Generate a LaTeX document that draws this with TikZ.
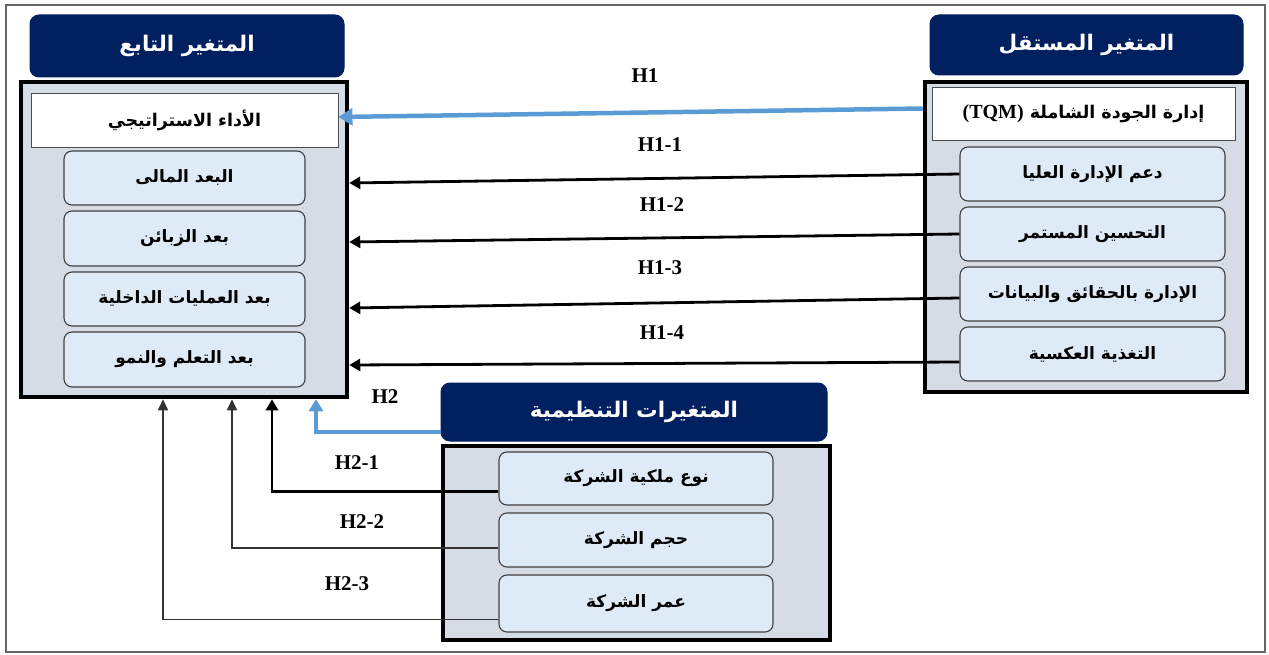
\documentclass[tikz,border=0pt]{standalone}
\usepackage{fontspec}
\setmainfont{Liberation Serif}
\newfontfamily\arabicfont[Script=Arabic]{DejaVu Sans}
\TeXXeTstate=1
\usetikzlibrary{arrows.meta,calc}
\definecolor{navy}{HTML}{002060}
\definecolor{contfill}{HTML}{D6DCE5}
\definecolor{boxfill}{HTML}{DEEBF7}
\definecolor{lineblue}{HTML}{5B9BD5}
\newcommand\pbox[7]{\node[#2, minimum width={#5-#3}, minimum height={#6-#4}] (#1) at ({(#3+#5)/2},{(#4+#6)/2}) {#7};}
\newcommand\ar[1]{\beginR #1\endR}
\begin{document}
\begin{tikzpicture}[x=1pt,y=-1pt,
  header/.style={draw=navy, fill=navy, rounded corners=9pt, line width=1pt, text=white, inner sep=0pt,
    font=\arabicfont\bfseries\fontsize{21.5}{25}\selectfont},
  container/.style={draw=black, fill=contfill, line width=4.5pt, inner sep=0pt},
  titlebox/.style={draw=black!70, fill=white, line width=0.9pt, inner sep=0pt,
    font=\arabicfont\bfseries\fontsize{17.5}{20}\selectfont},
  dimbox/.style={draw=black!75, fill=boxfill, rounded corners=8pt, line width=1.1pt, inner sep=0pt,
    font=\arabicfont\bfseries\fontsize{17}{20}\selectfont},
  hlabel/.style={font=\bfseries\fontsize{21}{24}\selectfont, inner sep=0pt},
  conn/.style={line width=2.8pt, draw=black, -{Triangle[length=11pt,width=12pt]}},
  thinconn/.style={line width=1.6pt, draw=black!80, -{Triangle[length=11pt,width=10pt]}},
  blueconn/.style={line width=4.5pt, draw=lineblue, -{Triangle[length=14pt,width=17pt]}},
]
\useasboundingbox (0,0) rectangle (1269,655);
\draw[black!60, line width=1.2pt] (6,5) rectangle (1265,652);

% left (dependent variable)
\pbox{lh}{header}{30}{15}{344}{77}{\ar{المتغير التابع}}
\pbox{L}{container}{21}{82}{347}{397}{}
\pbox{perf}{titlebox}{31}{93}{338}{147}{\ar{الأداء الاستراتيجي}}
\pbox{l1}{dimbox}{64}{151}{305}{205}{\ar{البعد المالى}}
\pbox{l2}{dimbox}{64}{211}{305}{266}{\ar{بعد الزبائن}}
\pbox{l3}{dimbox}{64}{272}{305}{326}{\ar{بعد العمليات الداخلية}}
\pbox{l4}{dimbox}{64}{332}{305}{387}{\ar{بعد التعلم والنمو}}

% right (independent variable)
\pbox{rh}{header}{930}{15}{1243}{75}{\ar{المتغير المستقل}}
\pbox{R}{container}{925}{82}{1247}{392}{}
\pbox{tqm}{titlebox}{932}{87}{1235}{140}{\beginR إدارة الجودة الشاملة \beginL{\rmfamily\bfseries\fontsize{20}{22}\selectfont(TQM)}\endL\endR}
\pbox{r1}{dimbox}{960}{147}{1225}{201}{\ar{دعم الإدارة العليا}}
\pbox{r2}{dimbox}{960}{207}{1225}{261}{\ar{التحسين المستمر}}
\pbox{r3}{dimbox}{960}{267}{1225}{321}{\ar{الإدارة بالحقائق والبيانات}}
\pbox{r4}{dimbox}{960}{327}{1225}{381}{\ar{التغذية العكسية}}

% bottom (organisational variables)
\pbox{B}{container}{443}{446}{830}{640}{}
\pbox{bh}{header}{441}{383}{827}{441}{\ar{المتغيرات التنظيمية}}
\pbox{b1}{dimbox}{499}{452}{773}{505}{\ar{نوع ملكية الشركة}}
\pbox{b2}{dimbox}{499}{513}{773}{567}{\ar{حجم الشركة}}
\pbox{b3}{dimbox}{499}{575}{773}{632}{\ar{عمر الشركة}}

% H1 connectors
\draw[blueconn] ([yshift=5pt]tqm.west -| R.west) -- ([yshift=3pt]perf.east);
\draw[conn] (r1.west) -- ([yshift=-9pt]r1.west -| L.east);
\draw[conn] (r2.west) -- ([yshift=-8pt]r2.west -| L.east);
\draw[conn] ([yshift=-4pt]r3.west) -- ([yshift=-14pt]r3.west -| L.east);
\draw[conn] ([yshift=-8pt]r4.west) -- ([yshift=-11pt]r4.west -| L.east);

% H2 connectors
\draw[blueconn, line width=3.6pt, -{Triangle[length=12pt,width=14pt]}] ([yshift=-20pt]bh.west) -| ([xshift=132pt]L.south);
\draw[conn] ([yshift=-13pt]b1.west) -| ([xshift=88pt]L.south);
\draw[thinconn] ([yshift=-8pt]b2.west) -| ([xshift=48pt]L.south);
\draw[thinconn] ([yshift=-16pt]b3.west) -| ([xshift=-21pt]L.south);

% labels
\node[hlabel] (h1) at (645,76) {H1};
\node[hlabel] (h11) at (660,145) {H1-1};
\node[hlabel] (h12) at (662,205) {H1-2};
\node[hlabel] (h13) at (660,268) {H1-3};
\node[hlabel] (h14) at (662,333) {H1-4};
\node[hlabel] (h2) at (385,397) {H2};
\node[hlabel] (h21) at (357,463) {H2-1};
\node[hlabel] (h22) at (362,522) {H2-2};
\node[hlabel] (h23) at (347,584) {H2-3};
\end{tikzpicture}
\end{document}
